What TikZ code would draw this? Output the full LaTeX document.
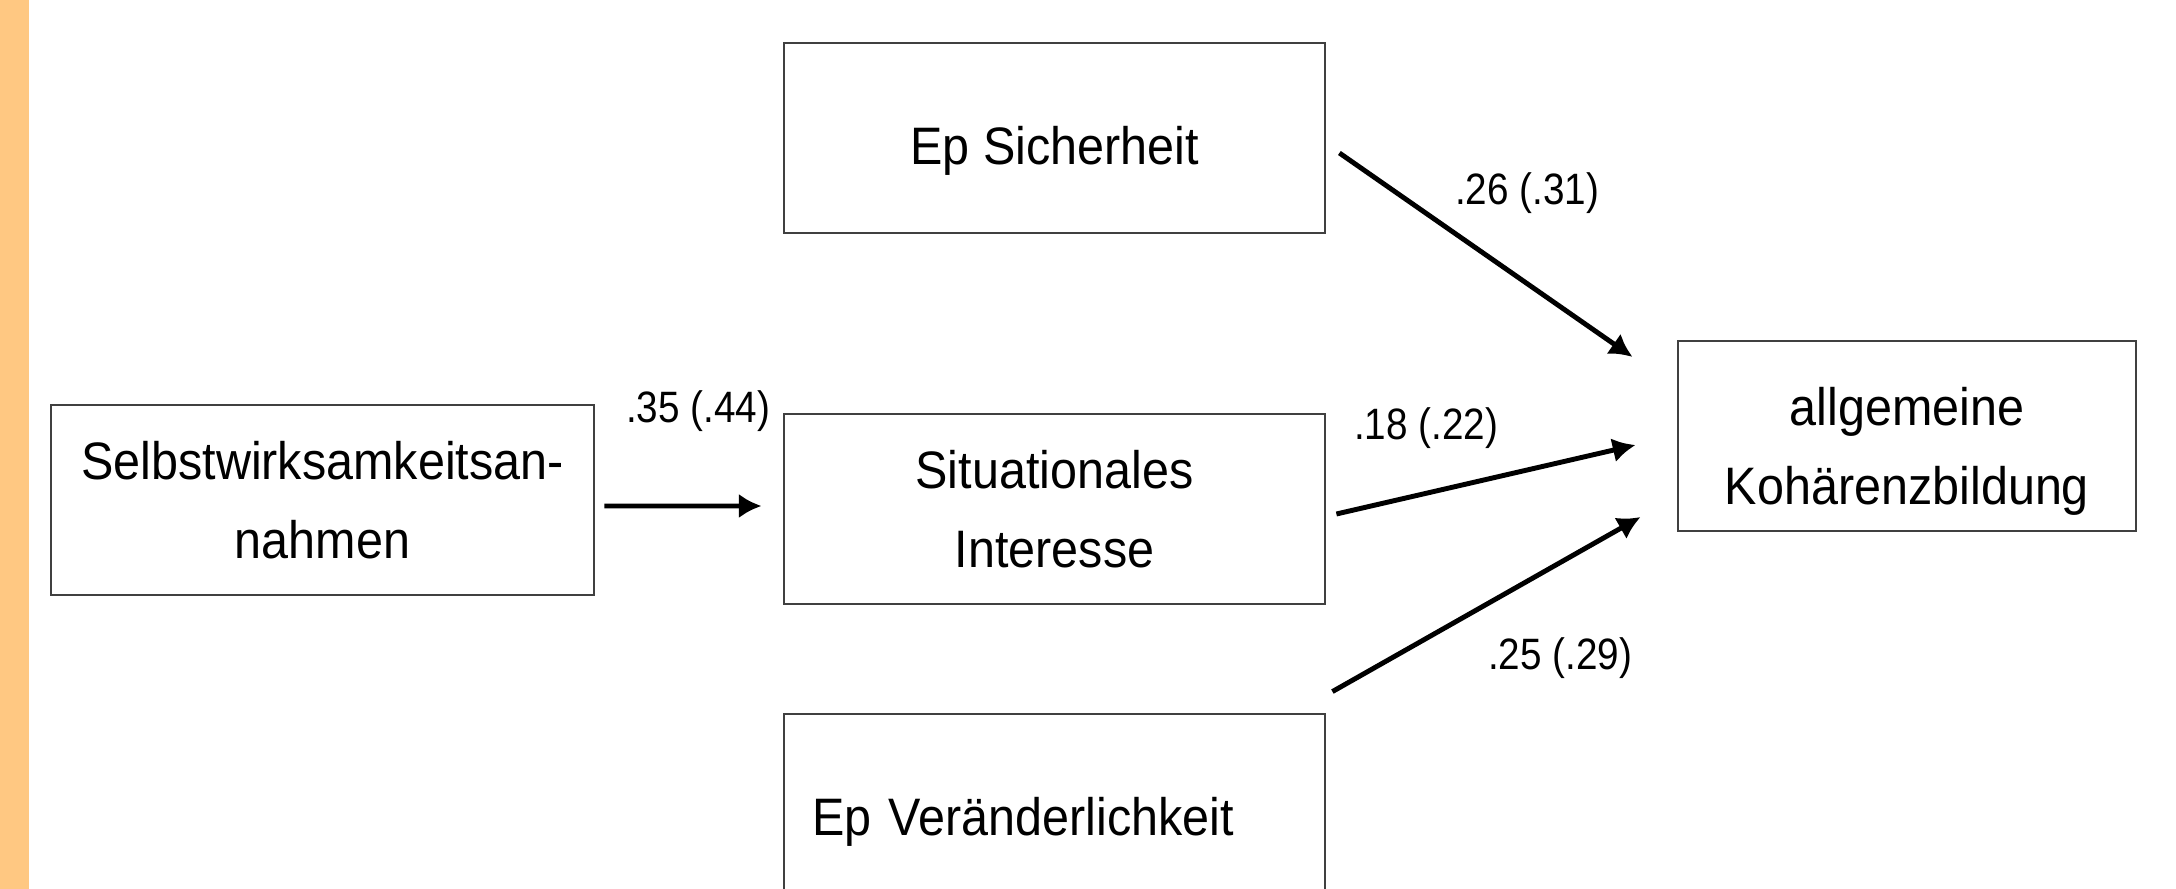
\documentclass[tikz,border=0pt]{standalone}
\usepackage{fontspec}
\setmainfont{Liberation Sans}[FakeStretch=0.92]
\newfontfamily\coeffont{Liberation Sans}[FakeStretch=0.88]
\usetikzlibrary{arrows.meta, positioning}
\definecolor{stripe}{RGB}{255,200,130}

\begin{document}
\begin{tikzpicture}[
    var/.style={draw=black!75, line width=0.8pt, minimum height=1.9cm, align=center, font=\fontsize{15}{22.5}\selectfont},
    coef/.style={font=\coeffont\fontsize{12.5}{14}\selectfont, inner sep=0pt},
    effect/.style={line width=1.4pt, -{Latex[length=6.5pt,width=7pt]}}
  ]
  \useasboundingbox (0,0) rectangle (21.76,8.89);
  \clip (0,0) rectangle (21.76,8.89);
  \fill[stripe] (0,0) rectangle (0.29,8.89);

  \node[var, minimum width=5.43cm] (selbst) at (3.225,3.89) {Selbstwirksamkeitsan-\\nahmen};
  \node[var, minimum width=5.41cm, text height=15pt, text depth=0pt] (sicher) at (10.545,7.51) {Ep Sicherheit};
  \node[var, minimum width=5.41cm] (sit) at (10.545,3.80) {Situationales\\Interesse};
  \node[var, text width=4.85cm, inner xsep=0.28cm, align=left, text height=15pt, text depth=0pt] (ver) at (10.545,0.80) {Ep Veränderlichkeit};
  \node[var, minimum width=4.58cm] (allg) at (19.07,4.53) {\rule{0pt}{19.5pt}allgemeine\\Kohärenzbildung};

  \draw[effect] ([xshift=0.09cm,yshift=-0.06cm]selbst.east) -- ([xshift=-0.21cm,yshift=0.03cm]sit.west);
  \draw[effect] ([xshift=0.13cm,yshift=-0.15cm]sicher.east) -- ([xshift=-0.44cm,yshift=0.79cm]allg.west);
  \draw[effect] ([xshift=0.10cm,yshift=-0.05cm]sit.east) -- ([xshift=-0.41cm,yshift=-0.09cm]allg.west);
  \draw[effect] ([xshift=0.06cm,yshift=0.21cm]ver.north east) -- ([xshift=-0.36cm,yshift=-0.81cm]allg.west);

  \node[coef] (c35) at (6.98,4.78) {.35 (.44)};
  \node[coef] (c26) at (15.27,6.96) {.26 (.31)};
  \node[coef] (c18) at (14.26,4.61) {.18 (.22)};
  \node[coef] (c25) at (15.60,2.31) {.25 (.29)};
\end{tikzpicture}
\end{document}
